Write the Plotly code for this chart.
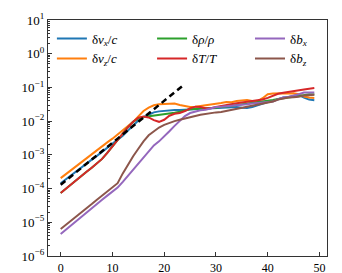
import numpy as np
import plotly.graph_objects as go

t = list(range(50))

# log10 of the amplitudes
vx_log = [-3.84,-3.72,-3.61,-3.49,-3.38,-3.26,-3.14,-3.03,-2.91,-2.79,
          -2.68,-2.56,-2.43,-2.28,-2.12,-1.98,-1.88,-1.80,-1.74,-1.71,
          -1.69,-1.68,-1.67,-1.67,-1.66,-1.65,-1.64,-1.63,-1.62,-1.62,
          -1.61,-1.60,-1.58,-1.57,-1.58,-1.60,-1.61,-1.58,-1.53,-1.47,
          -1.43,-1.40,-1.35,-1.30,-1.28,-1.25,-1.22,-1.30,-1.36,-1.38]
vz_log = [-3.69,-3.57,-3.45,-3.34,-3.22,-3.10,-2.98,-2.86,-2.75,-2.63,
          -2.52,-2.40,-2.27,-2.15,-2.02,-1.86,-1.70,-1.60,-1.53,-1.50,
          -1.49,-1.47,-1.48,-1.52,-1.56,-1.58,-1.57,-1.55,-1.53,-1.52,
          -1.50,-1.46,-1.43,-1.44,-1.40,-1.38,-1.37,-1.40,-1.41,-1.32,
          -1.20,-1.18,-1.17,-1.17,-1.18,-1.17,-1.20,-1.27,-1.30,-1.31]
rho_log = [-4.13,-4.00,-3.88,-3.75,-3.63,-3.50,-3.38,-3.25,-3.12,-2.94,
           -2.75,-2.55,-2.36,-2.18,-2.02,-1.92,-1.88,-1.86,-1.85,-1.83,
           -1.80,-1.77,-1.75,-1.72,-1.68,-1.65,-1.64,-1.63,-1.64,-1.63,
           -1.60,-1.58,-1.57,-1.55,-1.52,-1.50,-1.48,-1.45,-1.44,-1.43,
           -1.40,-1.37,-1.34,-1.31,-1.30,-1.28,-1.25,-1.22,-1.20,-1.21]
T_log = [-4.13,-4.00,-3.88,-3.75,-3.63,-3.50,-3.38,-3.25,-3.12,-2.94,
         -2.75,-2.55,-2.36,-2.18,-2.02,-1.90,-1.86,-1.89,-1.97,-2.02,
         -1.96,-1.84,-1.78,-1.76,-1.70,-1.62,-1.57,-1.58,-1.62,-1.62,
         -1.58,-1.55,-1.52,-1.48,-1.47,-1.45,-1.43,-1.41,-1.38,-1.36,
         -1.31,-1.25,-1.19,-1.16,-1.13,-1.11,-1.08,-1.06,-1.04,-1.02]
bx_log = [-5.35,-5.22,-5.10,-4.97,-4.84,-4.72,-4.59,-4.46,-4.33,-4.21,
          -4.08,-3.97,-3.80,-3.62,-3.44,-3.26,-3.08,-2.88,-2.72,-2.60,
          -2.46,-2.30,-2.14,-1.98,-1.85,-1.76,-1.71,-1.68,-1.66,-1.62,
          -1.58,-1.57,-1.56,-1.55,-1.54,-1.53,-1.50,-1.48,-1.47,-1.46,
          -1.45,-1.42,-1.35,-1.30,-1.28,-1.25,-1.20,-1.15,-1.14,-1.15]
bz_log = [-5.20,-5.08,-4.95,-4.83,-4.70,-4.58,-4.46,-4.33,-4.21,-4.09,
          -3.96,-3.84,-3.55,-3.28,-3.04,-2.82,-2.60,-2.42,-2.30,-2.19,
          -2.11,-2.05,-2.00,-1.96,-1.93,-1.89,-1.85,-1.81,-1.78,-1.76,
          -1.74,-1.73,-1.70,-1.66,-1.63,-1.60,-1.58,-1.56,-1.53,-1.50,
          -1.46,-1.42,-1.36,-1.32,-1.30,-1.29,-1.28,-1.24,-1.22,-1.22]

fit_t = [0, 24]
fit_y = [1.3e-4, 0.126]

names = ["δ<i>v</i><sub><i>x</i></sub>/<i>c</i>",
         "δ<i>v</i><sub><i>z</i></sub>/<i>c</i>",
         "δ<i>ρ</i>/<i>ρ</i>",
         "δ<i>T</i>/<i>T</i>",
         "δ<i>b</i><sub><i>x</i></sub>",
         "δ<i>b</i><sub><i>z</i></sub>"]
series = [vx_log, vz_log, rho_log, T_log, bx_log, bz_log]
colors = ["#1f77b4", "#ff7f0e", "#2ca02c", "#d62728", "#9467bd", "#8c564b"]
legends = ["legend", "legend", "legend2", "legend2", "legend3", "legend3"]

ytickvals = [1e-6, 1e-5, 1e-4, 1e-3, 1e-2, 1e-1, 1e0, 1e1]
yticktext = ["10<sup>−6</sup>", "10<sup>−5</sup>", "10<sup>−4</sup>", "10<sup>−3</sup>",
             "10<sup>−2</sup>", "10<sup>−1</sup>", "10<sup>0</sup>", "10<sup>1</sup>"]
xtickvals = [0, 10, 20, 30, 40, 50]

fig = go.Figure()
for nm, s, c, lg in zip(names, series, colors, legends):
    fig.add_trace(go.Scatter(x=t, y=10 ** np.array(s), mode="lines", name=nm,
                             line=dict(color=c, width=2), legend=lg))
fig.add_trace(go.Scatter(x=fit_t, y=fit_y, mode="lines", showlegend=False,
                         line=dict(color="black", width=2.5, dash="6px,4px")))

font = dict(family="Liberation Serif, DejaVu Serif, serif", size=13, color="black")
xfont = dict(family="Liberation Serif, DejaVu Serif, serif", size=12, color="black")
leg_common = dict(bgcolor="rgba(0,0,0,0)", font=font, yanchor="top",
                  xanchor="left", y=0.985, tracegroupgap=0, itemwidth=30)
fig.update_layout(
    width=342, height=273,
    margin=dict(l=48, r=15, t=20, b=17, autoexpand=False),
    paper_bgcolor="white", plot_bgcolor="white",
    font=font,
    legend=dict(x=0.014, **leg_common),
    legend2=dict(x=0.373, **leg_common),
    legend3=dict(x=0.724, **leg_common),
)
fig.update_xaxes(range=[-2.45, 51.45], tickvals=xtickvals, ticks="inside",
                 ticklen=4, tickwidth=1, tickcolor="#333", showgrid=False,
                 zeroline=False, showline=True, linecolor="#333", linewidth=1.2,
                 mirror=True, tickfont=xfont, automargin=False)
fig.update_yaxes(type="log", range=[-6, 1], tickvals=ytickvals, ticktext=yticktext,
                 ticks="inside", ticklen=4, tickwidth=1, tickcolor="#333",
                 showgrid=False, zeroline=False, showline=True, linecolor="#333",
                 linewidth=1.2, mirror=True, tickfont=font, automargin=False,
                 minor=dict(ticks="inside", ticklen=2, tickwidth=0.8,
                            tickcolor="#333", dtick="D1", showgrid=False))
fig.write_html("out.html", config={"displayModeBar": False},
               post_script="document.body.style.margin='0px';document.body.style.overflow='hidden';")
